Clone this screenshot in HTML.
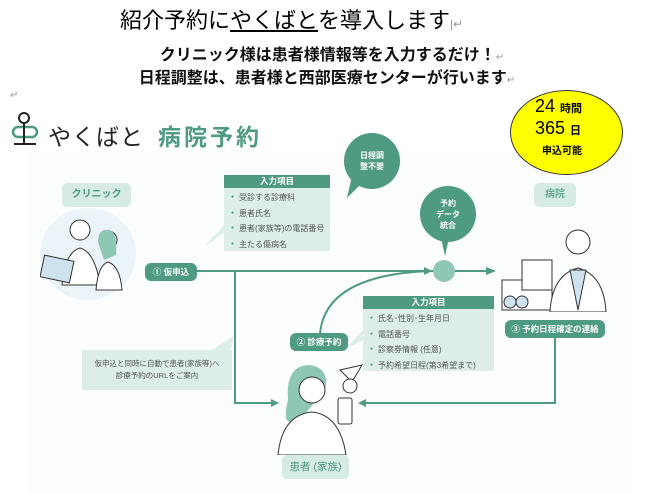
<!DOCTYPE html>
<html><head><meta charset="utf-8"><style>
body{margin:0;width:654px;height:493px;background:#fff;position:relative;overflow:hidden;font-family:"Liberation Sans","Noto Sans CJK JP",sans-serif;}
.a{position:absolute;}
.lbl{position:absolute;background:#d5ebe4;color:#4e9a82;font-weight:bold;font-size:10px;text-align:center;border-radius:5px;}
.pill{position:absolute;background:#4e9a82;color:#fff;font-weight:bold;font-size:8.5px;text-align:center;border-radius:6px;}
.box{position:absolute;background:#dcedea;font-size:8px;color:#555;}
.box .h{background:#4e9a82;color:#fff;font-weight:bold;text-align:center;height:13px;line-height:13px;font-size:8.5px;}
.box ul{margin:3px 0 0 0;padding-left:16px;line-height:13.5px;list-style:none;}
.box li::before{content:"●";color:#4e9a82;font-size:5px;position:relative;left:-9px;top:-2px;margin-right:-4px;}
.circ{position:absolute;border-radius:50%;background:#4e9a82;color:#fff;font-weight:bold;font-size:8px;text-align:center;display:flex;align-items:center;justify-content:center;line-height:11px;}
</style></head><body>
<div class="a" style="left:28px;top:150px;width:602px;height:343px;background:#fcfdfd"></div>
<div class="a" style="left:120px;top:3px;font-size:22px;white-space:nowrap;color:#000">紹介予約に<span style="text-decoration:underline">やくばと</span>を導入します<span style="color:#999;font-size:12px">|↵</span></div>
<div class="a" style="left:0;width:654px;top:41px;text-align:center;font-size:16px;font-weight:bold;color:#111;padding-left:10px;box-sizing:border-box">クリニック様は患者様情報等を入力するだけ！<span style="color:#999;font-size:10px;font-weight:normal">↵</span></div>
<div class="a" style="left:0;width:654px;top:64px;text-align:center;font-size:16px;font-weight:bold;color:#111">日程調整は、患者様と西部医療センターが行います<span style="color:#999;font-size:10px;font-weight:normal">↵</span></div>
<div class="a" style="left:10px;top:90px;color:#999;font-size:10px">↵</div>
<div class="a" style="left:510px;top:90px;width:113px;height:85px;border-radius:50%;background:#ffff00;border:1px solid #333;box-sizing:border-box"></div>
<div class="a" style="left:535px;top:96px;font-size:18px;color:#000">24 <b style="font-size:11px">時間</b></div>
<div class="a" style="left:535px;top:118px;font-size:18px;color:#000">365 <b style="font-size:11px">日</b></div>
<div class="a" style="left:542px;top:142px;font-size:10px;font-weight:bold;color:#000">申込可能</div>
<!-- logo -->
<svg class="a" style="left:10px;top:110px" width="30" height="40"><circle cx="14" cy="8" r="5" fill="none" stroke="#222" stroke-width="2"/><rect x="3" y="17" width="24" height="10" rx="5" fill="none" stroke="#4e9a82" stroke-width="2.5"/><line x1="14" y1="13" x2="14" y2="33" stroke="#222" stroke-width="2"/><line x1="4" y1="34" x2="26" y2="34" stroke="#222" stroke-width="2"/></svg>
<div class="a" style="left:48px;top:118px;font-size:23px;color:#222;letter-spacing:1px">やくばと</div>
<div class="a" style="left:158px;top:118px;font-size:23px;color:#4e9a82;letter-spacing:3px;font-weight:bold">病院予約</div>
<!-- clinic -->
<div class="lbl" style="left:62px;top:183px;width:69px;height:24px;line-height:24px">クリニック</div>
<div class="a" style="left:40px;top:208px;width:96px;height:92px;border-radius:50%;background:#eaf4f9"></div>
<svg class="a" style="left:40px;top:210px" width="100" height="95"><circle cx="40" cy="20" r="10" fill="#fff" stroke="#333"/><path d="M22 75 Q25 42 40 38 Q55 42 60 75Z" fill="#fff" stroke="#333"/><circle cx="68" cy="30" r="9" fill="#fff" stroke="#333"/><path d="M58 32 Q58 18 70 20 Q78 24 76 45 L64 50Z" fill="#8fc7b5"/><path d="M56 80 Q58 55 68 52 Q80 56 82 80Z" fill="#fff" stroke="#333"/><rect x="2" y="48" width="30" height="22" fill="#cfe3ef" stroke="#333" transform="rotate(12 17 59)"/></svg>
<!-- box1 -->
<svg class="a" style="left:200px;top:225px" width="40" height="30"><polygon points="24,0 34,0 4,22" fill="#dcedea"/></svg>
<div class="box" style="left:224px;top:175px;width:106px;height:76px"><div class="h">入力項目</div><ul><li>受診する診療科</li><li>患者氏名</li><li>患者(家族等)の電話番号</li><li>主たる傷病名</li></ul></div>
<div class="circ" style="left:344px;top:133px;width:56px;height:56px">日程調<br>整不要</div>
<svg class="a" style="left:345px;top:180px" width="20" height="20"><polygon points="6,0 18,2 2,18" fill="#4e9a82"/></svg>
<div class="circ" style="left:420px;top:186px;width:56px;height:56px">予約<br>データ<br>統合</div>
<svg class="a" style="left:440px;top:238px" width="10" height="20"><polygon points="1,0 9,0 5,18" fill="#4e9a82"/></svg>
<!-- lines -->
<svg class="a" style="left:0;top:0" width="654" height="493">
<g stroke="#4e9a82" stroke-width="2" fill="none">
<line x1="190" y1="271" x2="488" y2="271"/>
<path d="M235 271 V403 H272"/>
<path d="M555 338 V403 H364"/>
<path d="M320 334 Q325 275 430 271"/>
</g>
<g fill="#4e9a82"><polygon points="496,271 486,267 486,275"/><polygon points="432,271 424,267 424,275"/><polygon points="279,403 271,399 271,407"/><polygon points="358,403 366,399 366,407"/></g>
<circle cx="444" cy="271" r="11" fill="#8fc7b5"/>
</svg>
<div class="pill" style="left:145px;top:263px;width:52px;height:18px;line-height:18px">① 仮申込</div>
<!-- hospital -->
<div class="lbl" style="left:534px;top:183px;width:42px;height:24px;line-height:24px;color:#6aa996">病院</div>
<svg class="a" style="left:500px;top:220px" width="110" height="92"><rect x="2" y="60" width="50" height="30" fill="#fff" stroke="#333"/><rect x="22" y="40" width="30" height="30" fill="#fff" stroke="#333"/><circle cx="10" cy="82" r="6" fill="#cfe3ef" stroke="#333"/><circle cx="22" cy="82" r="6" fill="#cfe3ef" stroke="#333"/><circle cx="78" cy="22" r="12" fill="#fff" stroke="#333"/><path d="M50 92 Q52 55 78 48 Q104 55 106 92Z" fill="#fff" stroke="#333"/><path d="M70 50 L78 90 L86 50Z" fill="#cfe3ef" stroke="#333"/></svg>
<div class="pill" style="left:505px;top:320px;width:100px;height:18px;line-height:18px">③ 予約日程確定の連絡</div>
<!-- box2 -->
<svg class="a" style="left:340px;top:330px" width="30" height="25"><polygon points="23,0 23,10 4,20" fill="#dcedea"/></svg>
<div class="box" style="left:363px;top:296px;width:131px;height:75px"><div class="h">入力項目</div><ul><li>氏名･性別･生年月日</li><li>電話番号</li><li>診察券情報 (任意)</li><li>予約希望日程(第3希望まで)</li></ul></div>
<div class="pill" style="left:290px;top:333px;width:58px;height:18px;line-height:18px">② 診療予約</div>
<!-- note -->
<svg class="a" style="left:200px;top:336px" width="40" height="20"><polygon points="34,0 10,15 30,15" fill="#dcedea"/></svg>
<div class="box" style="left:82px;top:350px;width:150px;height:40px;text-align:center;line-height:12px;padding-top:8px;box-sizing:border-box;font-size:7.5px">仮申込と同時に自動で患者(家族等)へ<br>診療予約のURLをご案内</div>
<!-- patient -->
<svg class="a" style="left:270px;top:360px" width="95" height="95"><path d="M18 40 Q15 5 40 5 Q60 8 55 30 L30 60 Q10 70 18 40Z" fill="#8fc7b5"/><circle cx="42" cy="30" r="13" fill="#fff" stroke="#333"/><path d="M8 95 Q12 55 42 52 Q70 55 76 95Z" fill="#fff" stroke="#333"/><rect x="68" y="38" width="14" height="26" rx="2" fill="#fff" stroke="#333"/><path d="M70 10 L92 5 L82 22Z" fill="#fff" stroke="#333"/><circle cx="80" cy="26" r="7" fill="#fff" stroke="#333"/></svg>
<div class="lbl" style="left:282px;top:455px;width:67px;height:24px;line-height:24px;font-weight:normal;font-size:10.5px">患者 (家族)</div>
</body></html>
